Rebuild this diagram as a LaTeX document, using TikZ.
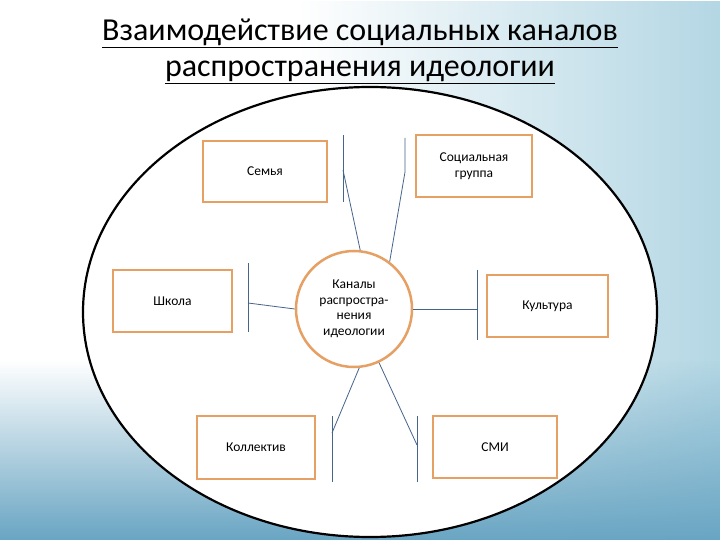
\documentclass[tikz,border=0pt]{standalone}
\usepackage{fontspec}
\setmainfont{Carlito}
\usetikzlibrary{positioning, fadings, shapes.geometric}
\definecolor{boxOrange}{RGB}{230,160,100}
\definecolor{wireBlue}{RGB}{70,100,140}
\definecolor{bgLight}{RGB}{180,215,228}
\definecolor{bgDeep}{RGB}{105,165,195}
\tikzset{
    channel/.style={rectangle, draw=boxOrange, line width=2pt, fill=white, align=center, font=\fontsize{13.5}{15.5}\selectfont},
    hub/.style={circle, draw=boxOrange, line width=2.5pt, fill=white, align=center, minimum size=116pt, inner sep=0pt, font=\fontsize{13.5}{15.5}\selectfont},
    wire/.style={draw=wireBlue, line width=0.8pt},
    title/.style={font=\fontsize{32}{36}\selectfont, align=center}
}

\begin{document}
\begin{tikzpicture}[x=1pt, y=-1pt]
        \useasboundingbox (0,0) rectangle (720,540);
        % Background
        \fill[white] (0,0) rectangle (720,540);
        \fill[bgLight, path fading=west] (300,0) rectangle (720,540);
        \fill[bgDeep, path fading=north] (0,360) rectangle (720,540);

        % Title
        \node[title] (Title) at (360,51) {\underline{Взаимодействие социальных каналов}\\\underline{распространения идеологии}};

        % Frame
        \draw[black, line width=2.2pt, fill=white] (370,312) ellipse [x radius=287, y radius=225];

        % Hub
        \node[hub] (Hub) at (354,309) {Каналы\\распростра-\\нения\\идеологии};

        % Channels
        \node[channel, minimum width=124pt, minimum height=61pt] (Family) at (265,171.5) {Семья};
        \node[channel, minimum width=116pt, minimum height=62pt] (SocialGroup) at (474,166) {Социальная\\группа};
        \node[channel, minimum width=119pt, minimum height=62pt] (School) at (172.5,301) {Школа};
        \node[channel, minimum width=121pt, minimum height=62pt] (Culture) at (547.5,306) {Культура};
        \node[channel, minimum width=118pt, minimum height=63pt] (Collective) at (256,447.5) {Коллектив};
        \node[channel, minimum width=124pt, minimum height=62pt] (Media) at (495,447) {СМИ};

        % Wires
        \coordinate (FamilyTop) at (343,135);
        \coordinate (FamilyBot) at (343,202);
        \coordinate (FamilyJoint) at (343,170);
        \draw[wire] (FamilyTop) -- (FamilyBot);
        \draw[wire] (Hub.84) -- (FamilyJoint);

        \coordinate (GroupTop) at (405,138);
        \coordinate (GroupJoint) at (405,172);
        \draw[wire] (GroupTop) -- (GroupJoint) -- (Hub.53);

        \coordinate (SchoolTop) at (248,263);
        \coordinate (SchoolBot) at (248,332);
        \coordinate (SchoolJoint) at (248,303);
        \draw[wire] (SchoolTop) -- (SchoolBot);
        \draw[wire] (Hub.180) -- (SchoolJoint);

        \coordinate (CultureTop) at (477,270);
        \coordinate (CultureBot) at (477,340);
        \coordinate (CultureJoint) at (477,309);
        \draw[wire] (CultureTop) -- (CultureBot);
        \draw[wire] (Hub.0) -- (CultureJoint);

        \coordinate (CollTop) at (332,416);
        \coordinate (CollBot) at (332,482);
        \coordinate (CollJoint) at (332,433);
        \draw[wire] (CollTop) -- (CollBot);
        \draw[wire] (Hub.-85) -- (CollJoint);

        \coordinate (MediaTop) at (417,416);
        \coordinate (MediaBot) at (417,482);
        \coordinate (MediaJoint) at (417,445);
        \draw[wire] (MediaTop) -- (MediaBot);
        \draw[wire] (Hub.-65) -- (MediaJoint);

    \end{tikzpicture}
\end{document}
